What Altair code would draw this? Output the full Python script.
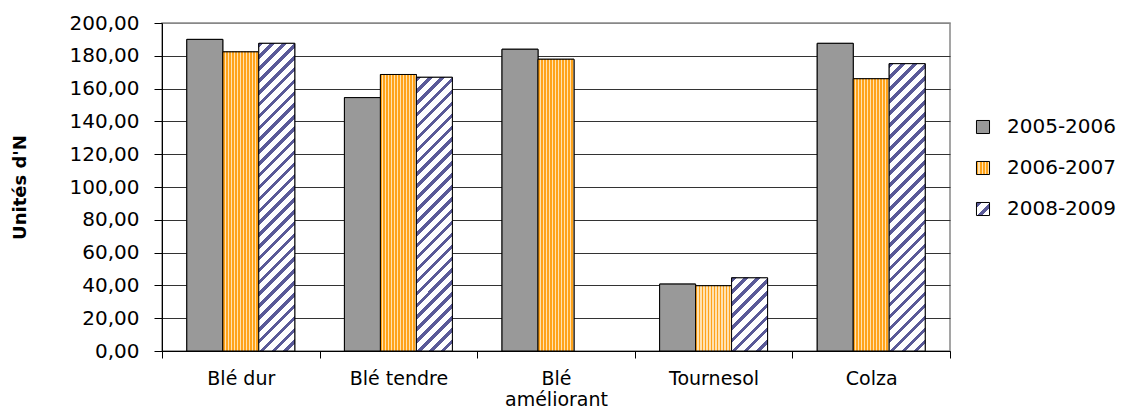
import altair as alt

categories = ["Blé dur", "Blé tendre", "Blé améliorant", "Tournesol", "Colza"]
series = ["2005-2006", "2006-2007", "2008-2009"]
v_2005_2006 = [190.0, 154.5, 184.0, 40.8, 187.6]
v_2006_2007 = [182.4, 168.6, 177.9, 39.8, 166.0]
v_2008_2009 = [187.6, 166.9, None, 44.6, 175.2]
y_ticks = [0, 20, 40, 60, 80, 100, 120, 140, 160, 180, 200]

GRAY = "#999999"
ORANGE = "#FFA31A"
PALE = "#FFE2B0"
NAVY = "#5A5A98"
WHITE = "#FFFFFF"

W, H = 788, 328
BAR_W = 36.0


def stripes(n, c1, c2, frac, x2, y2):
    stops = []
    for i in range(n):
        a = i / n
        b = (i + frac) / n
        c = (i + 1) / n
        stops += [
            {"offset": round(a, 5), "color": c1},
            {"offset": round(b, 5), "color": c1},
            {"offset": round(b, 5), "color": c2},
            {"offset": round(min(c, 1.0), 5), "color": c2},
        ]
    return {"gradient": "linear", "x1": 0, "y1": 0, "x2": x2, "y2": y2, "stops": stops}


def hatch_for(value):
    h = value / 200.0 * H
    w = BAR_W
    k = (w + h) / (w * w + h * h)
    n = max(1, round((w + h) / 12.0))
    return stripes(n, NAVY, WHITE, 0.38, round(w * k, 6), round(h * k, 6))


def js(o):
    if isinstance(o, dict):
        return "{" + ",".join(f"{k}:{js(v)}" for k, v in o.items()) + "}"
    if isinstance(o, list):
        return "[" + ",".join(js(v) for v in o) + "]"
    if isinstance(o, str):
        return "'" + o + "'"
    return repr(o)


orange_bar = stripes(12, ORANGE, PALE, 0.62, 1, 0)
orange_leg = stripes(4, ORANGE, PALE, 0.6, 1, 0)
hatch_leg = stripes(2, NAVY, WHITE, 0.4, 1, 1)

records = []
for s, vals in zip(series, [v_2005_2006, v_2006_2007, v_2008_2009]):
    for c, v in zip(categories, vals):
        if v is None:
            continue
        if s == "2005-2006":
            g = GRAY
        elif s == "2006-2007":
            g = orange_bar
        else:
            g = hatch_for(v)
        records.append({"cat": c, "series": s, "value": v, "grad": g})

base = alt.Chart(alt.Data(values=records))

x_enc = alt.X(
    "cat:N",
    sort=categories,
    scale=alt.Scale(paddingInner=0, paddingOuter=0),
    axis=alt.Axis(
        title=None,
        labelAngle=0,
        tickBand="extent",
        tickSize=7,
        labelPadding=11,
        labelFont="DejaVu Sans",
        labelFontSize=19,
        labelLineHeight=21,
        labelColor="black",
        tickColor="black",
        domainColor="black",
        labelExpr="datum.value == 'Blé améliorant' ? ['Blé', 'améliorant'] : datum.value",
    ),
)
xo_enc = alt.XOffset("series:N", sort=series, scale=alt.Scale(paddingInner=0, paddingOuter=0.69))
y_enc = alt.Y(
    "value:Q",
    stack=None,
    scale=alt.Scale(domain=[0, 200], nice=False),
    axis=alt.Axis(
        values=y_ticks,
        title="Unités d'N",
        titleFont="DejaVu Sans",
        titleFontSize=18,
        titleFontWeight="bold",
        titleColor="black",
        titleAngle=270,
        titleX=-142,
        titleY=H / 2,
        titleAlign="center",
        titleBaseline="middle",
        labelFont="DejaVu Sans",
        labelFontSize=20,
        labelColor="black",
        labelPadding=15,
        tickSize=8,
        tickColor="black",
        domainColor="black",
        gridColor={"condition": {"test": "datum.value == 200", "value": "#888888"}, "value": "#333333"},
        labelExpr="replace(format(datum.value, '.2f'), '.', ',')",
    ),
)

legend_layer = base.mark_bar(stroke="black", strokeWidth=1).encode(
    x=x_enc,
    xOffset=xo_enc,
    y=y_enc,
    color=alt.Color(
        "series:N",
        sort=series,
        scale=alt.Scale(
            domain=series,
            range=[GRAY, {"expr": js(orange_leg)}, {"expr": js(hatch_leg)}],
        ),
        legend=alt.Legend(
            title=None,
            orient="none",
            legendX=811,
            legendY=94,
            direction="vertical",
            symbolType="square",
            symbolSize=170,
            symbolStrokeColor="black",
            symbolStrokeWidth=1,
            labelFont="DejaVu Sans",
            labelFontSize=20,
            labelColor="black",
            labelOffset=14,
            rowPadding=21,
            padding=0,
        ),
    ),
)

bar_layer = base.mark_bar(stroke="black", strokeWidth=1).encode(
    x=x_enc,
    xOffset=xo_enc,
    y=y_enc,
    fill=alt.Fill("grad:N", scale=None),
)

chart = (
    alt.layer(legend_layer, bar_layer)
    .properties(
        width=W,
        height=H,
        padding={"left": 154, "top": 15, "right": 186, "bottom": 60},
        autosize=alt.AutoSizeParams(type="none"),
        background="white",
    )
    .configure_view(stroke="#888888", strokeWidth=1.5)
)

chart.save("out.html", embed_options={"renderer": "svg", "actions": False})
